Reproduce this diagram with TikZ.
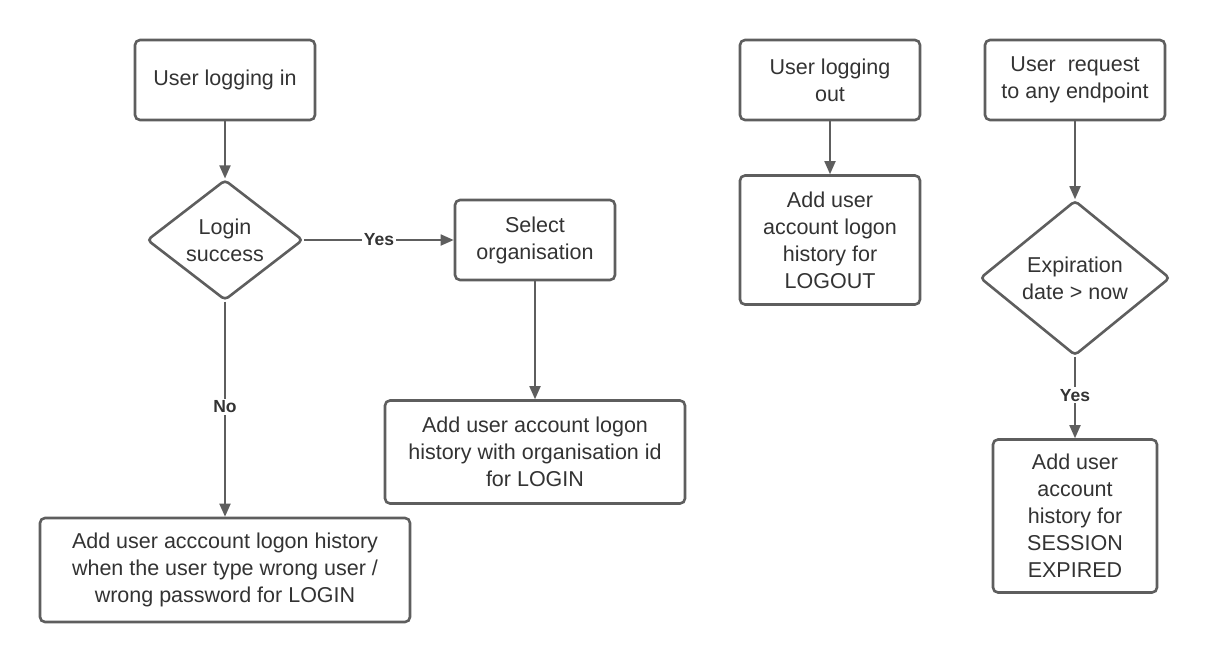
\documentclass[tikz,border=0pt]{standalone}
\usepackage{fontspec}
\setmainfont{Liberation Sans}
\usepackage{tikz}
\usetikzlibrary{shapes.geometric,arrows.meta}

\definecolor{lineg}{HTML}{5E5E5E}
\definecolor{textg}{HTML}{333333}

\begin{document}
\begin{tikzpicture}[x=1pt, y=-1pt,
  every node/.style={text=textg, font=\fontsize{21.5}{27}\selectfont, align=center, inner sep=0pt},
  procbox/.style={draw=lineg, line width=2.6pt, rounded corners=5pt, fill=white},
  decision/.style={draw=lineg, line width=2.6pt, diamond, rounded corners=4pt, fill=white},
  flow/.style={draw=lineg, line width=1.8pt, -{Triangle[length=13pt, width=11pt]}},
  edgelabel/.style={fill=white, font=\fontsize{17.5}{20}\selectfont\bfseries, inner sep=1.5pt}]

\useasboundingbox (0,0) rectangle (1210,662);

% Login flow
\node[procbox, minimum width=180pt, minimum height=80pt] (login) at (225,80) {User logging in};
\node[decision, minimum width=156pt, minimum height=116pt] (success) at (225,240) {Login\\success};
\node[procbox, minimum width=160pt, minimum height=80pt] (org) at (535,240) {Select\\organisation};
\node[procbox, minimum width=300pt, minimum height=103pt] (orghist) at (535,452) {Add user account logon\\history with organisation id\\for LOGIN};
\node[procbox, minimum width=370pt, minimum height=104pt] (failhist) at (225,570) {Add user acccount logon history\\when the user type wrong user /\\wrong password for LOGIN};

\draw[flow] (login) -- (success);
\draw[flow] (success) -- node[edgelabel] {Yes} (org);
\draw[flow] (success) -- node[edgelabel, pos=0.49] {No} (failhist);
\draw[flow] (org) -- (orghist);

% Logout flow
\node[procbox, minimum width=180pt, minimum height=80pt] (logout) at (830,80) {User logging\\out};
\node[procbox, minimum width=180pt, minimum height=129pt] (outhist) at (830,240) {Add user\\account logon\\history for\\LOGOUT};

\draw[flow] (logout) -- (outhist);

% Session expiry flow
\node[procbox, minimum width=180pt, minimum height=80pt] (request) at (1075,80) {User~ request\\to any endpoint};
\node[decision, minimum width=190pt, minimum height=155pt] (expiry) at (1075,278) {Expiration\\date > now};
\node[procbox, minimum width=164pt, minimum height=153pt] (sesshist) at (1075,516) {Add user\\account\\history for\\SESSION\\EXPIRED};

\draw[flow] (request) -- (expiry);
\draw[flow] (expiry) -- node[edgelabel, pos=0.47] {Yes} (sesshist);

\end{tikzpicture}
\end{document}
